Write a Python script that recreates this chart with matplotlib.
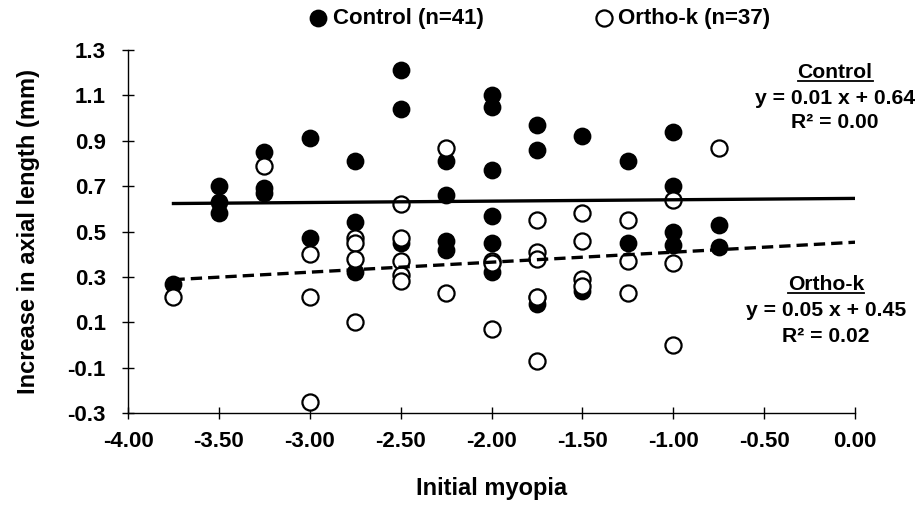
import numpy as np
import matplotlib.pyplot as plt
from matplotlib.lines import Line2D

plt.rcParams['font.family'] = ['Liberation Sans', 'DejaVu Sans']
plt.rcParams['font.weight'] = 'bold'

# Control group (filled circles)
control_x = [-3.75,
             -3.50, -3.50, -3.50,
             -3.25, -3.25, -3.25,
             -3.00, -3.00,
             -2.75, -2.75, -2.75,
             -2.50, -2.50, -2.50,
             -2.25, -2.25, -2.25, -2.25,
             -2.00, -2.00, -2.00, -2.00, -2.00, -2.00,
             -1.75, -1.75, -1.75, -1.75,
             -1.50, -1.50,
             -1.25, -1.25,
             -1.00, -1.00, -1.00, -1.00,
             -0.75, -0.75]
control_y = [0.27,
             0.70, 0.63, 0.58,
             0.85, 0.69, 0.67,
             0.91, 0.47,
             0.81, 0.54, 0.32,
             1.21, 1.04, 0.45,
             0.81, 0.66, 0.46, 0.42,
             1.10, 1.05, 0.77, 0.57, 0.45, 0.32,
             0.97, 0.86, 0.21, 0.18,
             0.92, 0.24,
             0.81, 0.45,
             0.94, 0.70, 0.50, 0.44,
             0.53, 0.43]

# Ortho-k group (open circles)
ortho_x = [-3.75,
           -3.25,
           -3.00, -3.00, -3.00,
           -2.75, -2.75, -2.75, -2.75,
           -2.50, -2.50, -2.50, -2.50, -2.50,
           -2.25, -2.25,
           -2.00, -2.00, -2.00,
           -1.75, -1.75, -1.75, -1.75, -1.75,
           -1.50, -1.50, -1.50, -1.50,
           -1.25, -1.25, -1.25,
           -1.00, -1.00, -1.00,
           -0.75]
ortho_y = [0.21,
           0.79,
           0.40, 0.21, -0.25,
           0.47, 0.45, 0.38, 0.10,
           0.62, 0.47, 0.37, 0.31, 0.28,
           0.87, 0.23,
           0.37, 0.36, 0.07,
           0.55, 0.41, 0.38, 0.21, -0.07,
           0.58, 0.46, 0.29, 0.26,
           0.55, 0.37, 0.23,
           0.64, 0.36, 0.00,
           0.87]

# regression lines as drawn
control_fit = (0.006, 0.646)
ortho_fit = (0.044, 0.453)
fit_range = [-3.75, 0.0]

control_label = 'Control (n=41)'
ortho_label = 'Ortho-k (n=37)'
control_eq = ['Control', 'y = 0.01 x + 0.64', 'R\u00b2 = 0.00']
ortho_eq = ['Ortho-k', 'y = 0.05 x + 0.45', 'R\u00b2 = 0.02']

xticks = np.arange(-4.0, 0.01, 0.5)
yticks = np.arange(-0.3, 1.31, 0.2)

fig = plt.figure(figsize=(9.19, 5.05), dpi=100)
ax = fig.add_axes([0.1393, 0.182, 0.7911, 0.719])

ms = 135
ax.scatter(control_x, control_y, s=ms, c='black', edgecolors='black',
           linewidths=1.2, zorder=3, label=control_label)
ax.scatter(ortho_x, ortho_y, s=ms, c='white', edgecolors='black',
           linewidths=1.6, zorder=4, label=ortho_label)

fx = np.array(fit_range)
ax.plot(fx, control_fit[0] * fx + control_fit[1], color='black', lw=2.4, zorder=5)
ax.plot(fx, ortho_fit[0] * fx + ortho_fit[1], color='black', lw=2.4,
        linestyle=(0, (3.4, 1.8)), zorder=5)

ax.set_xlim(-4.0, 0.0)
ax.set_ylim(-0.3, 1.3)
ax.set_xticks(xticks)
ax.set_yticks(yticks)
ax.set_xticklabels([f'{v:.2f}' for v in xticks])
ax.set_yticklabels([f'{v:.1f}' for v in yticks])
for s in ['top', 'right']:
    ax.spines[s].set_visible(False)
for s in ['left', 'bottom']:
    ax.spines[s].set_linewidth(1.0)
    ax.spines[s].set_clip_on(False)
ax.tick_params(direction='inout', length=8, width=1.0, labelsize=16)
ax.tick_params(axis='x', pad=9)
ax.tick_params(axis='y', pad=12)
ax.set_xlabel('Initial myopia', fontsize=17, fontweight='bold', labelpad=18)
ax.set_ylabel('Increase in axial length (mm)', fontsize=17, fontweight='bold', labelpad=20)

fig.legend(loc='center', bbox_to_anchor=(0.58, 0.963), ncol=2, frameon=False,
           fontsize=16, handletextpad=-0.35, columnspacing=4.4, markerscale=1.0)


def eq_block(lines, xc, ys):
    texts = []
    for t, yy in zip(lines, ys):
        texts.append(fig.text(xc, yy, t, ha='center', va='center',
                              fontsize=15.2, fontweight='bold'))
    return texts


control_texts = eq_block(control_eq, 835 / 919, [1 - 73 / 505, 1 - 99 / 505, 1 - 123 / 505])
ortho_texts = eq_block(ortho_eq, 826 / 919, [1 - 285 / 505, 1 - 311 / 505, 1 - 336 / 505])

# underline the group titles
fig.canvas.draw()
r = fig.canvas.get_renderer()
for t in [control_texts[0], ortho_texts[0]]:
    bb = t.get_window_extent(renderer=r).transformed(fig.transFigure.inverted())
    fig.add_artist(Line2D([bb.x0, bb.x1], [bb.y0 + 0.002, bb.y0 + 0.002],
                          color='black', lw=1.3, transform=fig.transFigure))

fig.savefig('out.png', dpi=100)
